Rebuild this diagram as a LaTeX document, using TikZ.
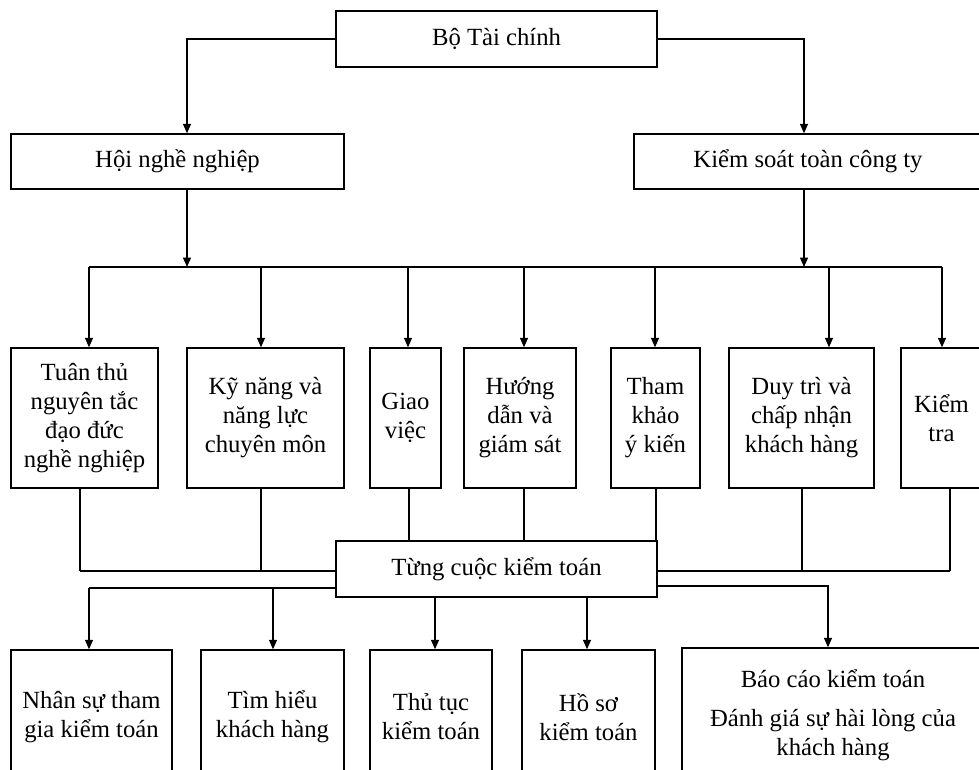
\documentclass[tikz,border=0pt]{standalone}
\usepackage{fontspec}
\setmainfont{Liberation Serif}
\usetikzlibrary{arrows.meta}

\tikzset{
  box/.style={draw, line width=1.4pt, fill=white, align=center, inner sep=0pt,
              font=\fontsize{24.7pt}{29pt}\selectfont},
  link/.style={line width=1.4pt},
  arr/.style={link, -{Triangle[length=9.5pt,width=8pt]}}
}

\begin{document}
\begin{tikzpicture}[x=1pt,y=-1pt]
\useasboundingbox (0,0) rectangle (979,769);
\clip (0,0) rectangle (979,769);

% --- top levels
\node[box, minimum width=321pt, minimum height=56pt] (top) at (496.5,39) {Bộ Tài chính};
\node[box, minimum width=333pt, minimum height=55pt] (hoi) at (177.5,161.5) {Hội nghề nghiệp};
\node[box, minimum width=348pt, minimum height=55pt] (ks)  at (808,161.5) {Kiểm soát toàn công ty};

% --- middle row of quality elements
\node[box, minimum width=147pt, minimum height=140pt] (t1) at (84.5,418)  {Tuân thủ\\nguyên tắc\\đạo đức\\nghề nghiệp};
\node[box, minimum width=157pt, minimum height=140pt] (t2) at (265.5,418) {Kỹ năng và\\năng lực\\chuyên môn};
\node[box, minimum width=71pt,  minimum height=140pt] (t3) at (405.5,418) {Giao\\việc};
\node[box, minimum width=112pt, minimum height=140pt] (t4) at (520,418)   {Hướng\\dẫn và\\giám sát};
\node[box, minimum width=89pt,  minimum height=140pt] (t5) at (655.5,418) {Tham\\khảo\\ý kiến};
\node[box, minimum width=145pt, minimum height=140pt] (t6) at (801.5,418) {Duy trì và\\chấp nhận\\khách hàng};
\node[box, minimum width=81pt,  minimum height=140pt] (t7) at (941.5,418) {Kiểm\\tra};

% --- per-engagement box
\node[box, minimum width=321pt, minimum height=56pt] (mid) at (496.5,569) {Từng cuộc kiểm toán};

% --- bottom row
\node[box, minimum width=161pt, minimum height=134pt] (b1) at (91.5,717)  {Nhân sự tham\\gia kiểm toán};
\node[box, minimum width=143pt, minimum height=134pt] (b2) at (272.5,717) {Tìm hiểu\\khách hàng};
\node[box, minimum width=122pt, minimum height=134pt] (b3) at (431,717)   {Thủ tục\\kiểm toán};
\node[box, minimum width=133pt, minimum height=134pt] (b4) at (588.5,717) {Hồ sơ\\kiểm toán};
\node[box, minimum width=302pt, minimum height=134pt] (b5) at (833,715)   {Báo cáo kiểm toán\\[10pt]Đánh giá sự hài lòng của\\khách hàng};

% --- Bộ Tài chính to the two bodies
\draw[arr] (top.west) -| ([xshift=9.5pt]hoi.north);
\draw[arr] (top.east) -| ([xshift=-4pt]ks.north);

% --- upper distribution bar
\coordinate (hb) at (187,267);
\coordinate (kb) at (804,267);
\foreach \i/\x in {1/89, 2/261, 3/408, 4/524, 5/655, 6/829, 7/942}
  \coordinate (d\i) at (\x,267);
\draw[link] (d1) -- (d7);
\draw[arr] ([xshift=9.5pt]hoi.south) -- (hb);
\draw[arr] ([xshift=-4pt]ks.south) -- (kb);
\foreach \i in {1,...,7}
  \draw[arr] (d\i) -- (t\i.north -| d\i);

% --- collecting lines into the per-engagement box
\foreach \i/\x/\y in {1/80/571, 2/261/571, 3/409/541, 4/524/541, 5/656/541, 6/802/571, 7/950/571}
  \coordinate (u\i) at (\x,\y);
\foreach \i in {1,...,7}
  \draw[link] (t\i.south -| u\i) -- (u\i);
\draw[link] (u1) -- (mid.west |- u1);
\draw[link] (mid.east |- u7) -- (u7);

% --- per-engagement box to its elements
\coordinate (v1) at (89,588);
\coordinate (v2) at (273,588);
\coordinate (v3) at (435,597);
\coordinate (v4) at (587,597);
\coordinate (v5) at (828,586);
\draw[link] (mid.west |- v1) -- (v1);
\draw[arr] (v1) -- (b1.north -| v1);
\draw[arr] (v2) -- (b2.north -| v2);
\draw[arr] (v3) -- (b3.north -| v3);
\draw[arr] (v4) -- (b4.north -| v4);
\draw[arr] (mid.east |- v5) -| (b5.north -| v5);
\end{tikzpicture}
\end{document}
